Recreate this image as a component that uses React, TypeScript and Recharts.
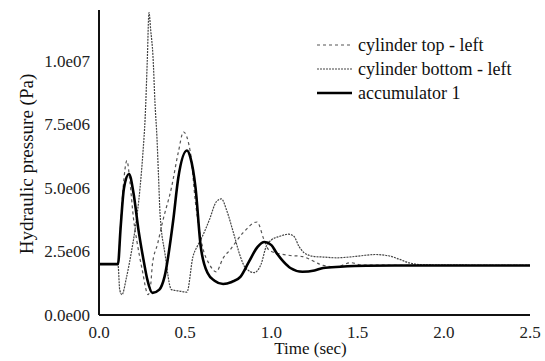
import React from 'react';
import { LineChart, Line, XAxis, YAxis, Legend } from 'recharts';

// Time (s) and pressure (Pa) samples
const topTime = [0, 0.11, 0.125, 0.14, 0.162, 0.18, 0.2, 0.22, 0.25, 0.285, 0.3, 0.31, 0.34, 0.37, 0.42, 0.46, 0.49, 0.53, 0.56, 0.6, 0.64, 0.68, 0.72, 0.76, 0.835, 0.917, 0.955, 0.98, 1.0, 1.1, 1.18, 1.25, 1.3, 1.38, 1.46, 1.52, 1.6, 2.5];
const topPressure = [2.0e6, 2.0e6, 3.5e6, 5.0e6, 6.07e6, 5.2e6, 3.8e6, 2.9e6, 1.8e6, 0.8e6, 1.2e6, 2.0e6, 2.8e6, 3.7e6, 5.0e6, 6.4e6, 7.2e6, 6.4e6, 4.4e6, 2.7e6, 2.0e6, 1.7e6, 2.24e6, 2.56e6, 3.23e6, 3.66e6, 3.0e6, 2.6e6, 2.5e6, 2.35e6, 2.3e6, 2.1e6, 1.95e6, 1.9e6, 2.06e6, 1.97e6, 1.96e6, 1.95e6];

const bottomTime = [0, 0.11, 0.12, 0.133, 0.16, 0.19, 0.21, 0.238, 0.255, 0.268, 0.28, 0.29, 0.3, 0.313, 0.325, 0.336, 0.345, 0.354, 0.383, 0.42, 0.46, 0.51, 0.545, 0.57, 0.6, 0.64, 0.68, 0.71, 0.74, 0.78, 0.82, 0.85, 0.9, 0.94, 0.97, 1.0, 1.05, 1.1, 1.13, 1.16, 1.19, 1.25, 1.3, 1.38, 1.45, 1.52, 1.6, 1.68, 1.74, 1.8, 1.9, 2.5];
const bottomPressure = [2.0e6, 2.0e6, 1.0e6, 0.8e6, 1.5e6, 2.56e6, 3.4e6, 5.0e6, 6.4e6, 7.8e6, 10.0e6, 11.9e6, 11.2e6, 10.2e6, 8.3e6, 7.0e6, 5.5e6, 4.0e6, 2.4e6, 1.0e6, 0.95e6, 0.9e6, 2.3e6, 2.7e6, 3.1e6, 3.74e6, 4.45e6, 4.57e6, 4.13e6, 3.23e6, 2.3e6, 1.85e6, 1.67e6, 2.0e6, 2.7e6, 2.95e6, 3.1e6, 3.18e6, 3.1e6, 2.7e6, 2.45e6, 2.3e6, 2.28e6, 2.25e6, 2.28e6, 2.33e6, 2.38e6, 2.33e6, 2.2e6, 2.05e6, 1.97e6, 1.95e6];

const accTime = [0, 0.11, 0.125, 0.145, 0.174, 0.2, 0.23, 0.26, 0.28, 0.31, 0.35, 0.38, 0.43, 0.46, 0.51, 0.53, 0.56, 0.59, 0.63, 0.67, 0.72, 0.77, 0.82, 0.87, 0.92, 0.96, 1.0, 1.03, 1.07, 1.11, 1.18, 1.25, 1.3, 1.4, 1.55, 1.8, 2.5];
const accPressure = [2.0e6, 2.0e6, 3.4e6, 5.0e6, 5.55e6, 4.8e6, 3.3e6, 2.1e6, 1.4e6, 0.87e6, 1.0e6, 1.5e6, 3.7e6, 5.4e6, 6.47e6, 6.2e6, 5.0e6, 2.7e6, 1.65e6, 1.35e6, 1.22e6, 1.3e6, 1.5e6, 2.1e6, 2.68e6, 2.87e6, 2.75e6, 2.44e6, 2.1e6, 1.85e6, 1.7e6, 1.75e6, 1.85e6, 1.9e6, 1.94e6, 1.95e6, 1.95e6];

const seriesNames = ['cylinder top - left', 'cylinder bottom - left', 'accumulator 1'];
const xTicks = [0, 0.5, 1.0, 1.5, 2.0, 2.5];
const yTicks = [0, 2.5e6, 5.0e6, 7.5e6, 1.0e7];
const yTickLabels = ['0.0e00', '2.5e06', '5.0e06', '7.5e06', '1.0e07'];

const toSeries = (t: number[], p: number[]) => t.map((tt, i) => ({ t: tt, p: p[i] }));

const topData = toSeries(topTime, topPressure);
const bottomData = toSeries(bottomTime, bottomPressure);
const accData = toSeries(accTime, accPressure);

const FONT = '"Liberation Serif", "DejaVu Serif", serif';

const styles = [
  { stroke: '#555', width: 1.2, dash: '3 3' },
  { stroke: '#444', width: 1.2, dash: '2 1' },
  { stroke: '#000', width: 2.6, dash: undefined as string | undefined },
];

const LegendContent = () => (
  <svg width={200} height={80}>
    {seriesNames.map((name, i) => (
      <g key={name}>
        <line
          x1={2}
          x2={37}
          y1={12 + i * 24}
          y2={12 + i * 24}
          stroke={styles[i].stroke}
          strokeWidth={styles[i].width}
          strokeDasharray={styles[i].dash}
        />
        <text x={43} y={12 + i * 24} dominantBaseline="central" style={{ fontFamily: FONT }} fontSize={18} fill="#111">
          {name}
        </text>
      </g>
    ))}
  </svg>
);

const XTick = ({ x, y, payload }: any) => (
  <text x={x} y={y} dy="0.71em" textAnchor="middle" style={{ fontFamily: FONT }} fontSize={17} fill="#222">
    {Number(payload.value).toFixed(1)}
  </text>
);

const YTick = ({ x, y, payload }: any) => (
  <text x={x} y={y} dy="0.35em" textAnchor="end" style={{ fontFamily: FONT }} fontSize={17} fill="#222">
    {yTickLabels[yTicks.indexOf(payload.value)] ?? ''}
  </text>
);

export default function App() {
  return (
    <div style={{ position: 'absolute', left: 0, top: 0, fontFamily: FONT }}>
      <LineChart width={545} height={361} margin={{ top: 10, right: 15, bottom: 0, left: 0 }}>
        <XAxis
          dataKey="t"
          type="number"
          domain={[0, 2.5]}
          ticks={xTicks}
          tickLine={false}
          tickMargin={5}
          height={46}
          allowDataOverflow
          axisLine={{ stroke: '#111', strokeWidth: 2 }}
          tick={<XTick />}
          label={{
            content: ({ viewBox }: any) => (
              <text
                x={viewBox.x + viewBox.width / 2 - 4}
                y={354}
                textAnchor="middle"
                style={{ fontFamily: FONT }}
                fontSize={17}
                fill="#111"
              >
                Time (sec)
              </text>
            ),
          }}
        />
        <YAxis
          type="number"
          domain={[0, 1.2e7]}
          ticks={yTicks}
          tickLine={false}
          tickMargin={3}
          width={99}
          allowDataOverflow
          axisLine={{ stroke: '#111', strokeWidth: 2 }}
          tick={<YTick />}
          label={{
            content: () => (
              <text
                x={26}
                y={164}
                transform="rotate(-90 26 164)"
                textAnchor="middle"
                dominantBaseline="central"
                style={{ fontFamily: FONT }}
                fontSize={19}
                fill="#111"
              >
                Hydraulic pressure (Pa)
              </text>
            ),
          }}
        />
        <Legend
          layout="vertical"
          align="center"
          verticalAlign="middle"
          content={<LegendContent />}
          wrapperStyle={{ position: 'absolute', left: 315, top: 33, width: 200, height: 80 }}
        />
        <Line
          data={topData}
          dataKey="p"
          name={seriesNames[0]}
          type="monotone"
          stroke={styles[0].stroke}
          strokeWidth={styles[0].width}
          strokeDasharray={styles[0].dash}
          dot={false}
          isAnimationActive={false}
        />
        <Line
          data={bottomData}
          dataKey="p"
          name={seriesNames[1]}
          type="monotone"
          stroke={styles[1].stroke}
          strokeWidth={styles[1].width}
          strokeDasharray={styles[1].dash}
          dot={false}
          isAnimationActive={false}
        />
        <Line
          data={accData}
          dataKey="p"
          name={seriesNames[2]}
          type="monotone"
          stroke={styles[2].stroke}
          strokeWidth={styles[2].width}
          dot={false}
          isAnimationActive={false}
        />
      </LineChart>
    </div>
  );
}
